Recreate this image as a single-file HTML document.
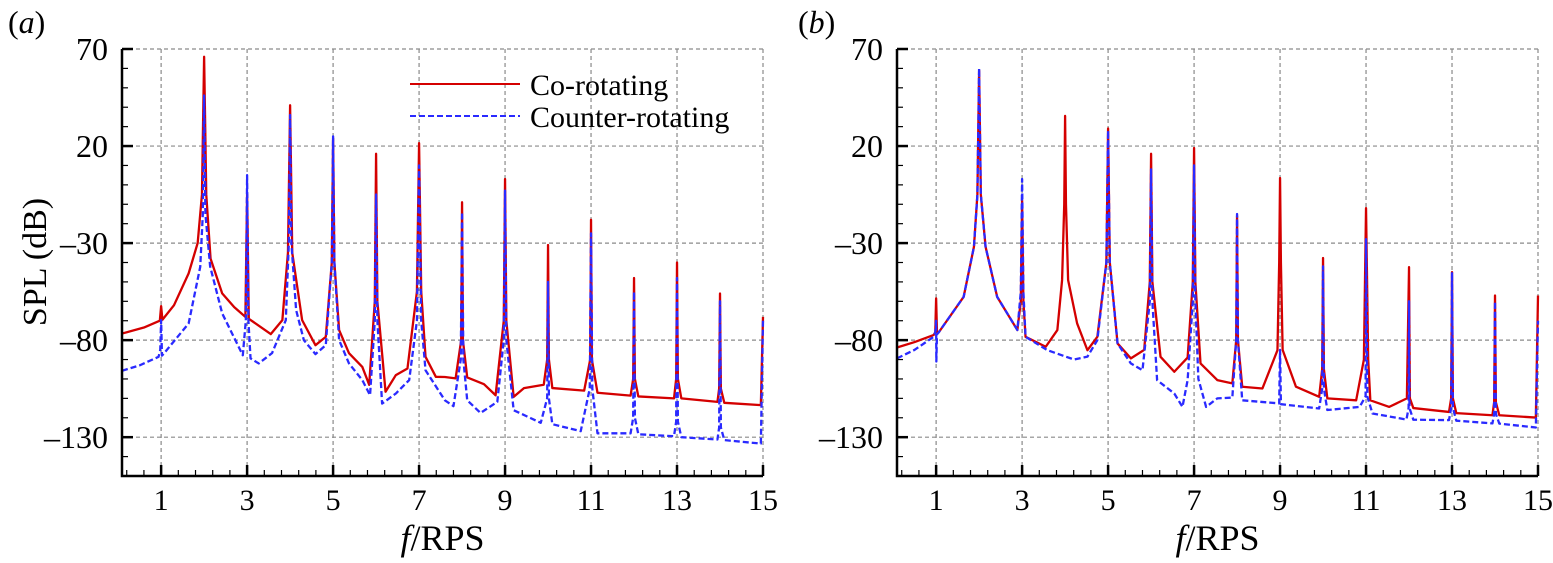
<!DOCTYPE html>
<html><head><meta charset="utf-8">
<style>
html,body{margin:0;padding:0;background:#fff;}
svg{display:block;font-family:"Liberation Serif",serif;}
</style></head>
<body>
<svg id="chart" width="1553" height="563" viewBox="0 0 1553 563" xmlns="http://www.w3.org/2000/svg"></svg>
<script>
// ---- data (f in RPS, SPL in dB) ----
const xTicks = [1,3,5,7,9,11,13,15];
const yTicks = [70,20,-30,-80,-130];
const legendLabels = ["Co-rotating","Counter-rotating"];

const fA_co = [0.09,0.6,0.97,1,1.03,1.3,1.64,1.85,1.95,2,2.05,2.15,2.42,2.7,2.96,3,3.04,3.3,3.55,3.82,3.95,4,4.05,4.28,4.59,4.83,4.97,5,5.03,5.14,5.37,5.68,5.84,5.97,6,6.03,6.22,6.46,6.73,6.95,7,7.05,7.15,7.39,7.6,7.85,7.98,8,8.02,8.12,8.51,8.78,8.97,9,9.03,9.2,9.44,9.9,9.98,10,10.02,10.1,10.84,10.98,11,11.02,11.15,11.92,11.98,12,12.02,12.1,12.93,12.98,13,13.02,13.1,13.94,13.98,14,14.02,14.1,14.95,15];
const splA_co = [-76.6,-73.5,-70,-62.5,-69.5,-62,-45.6,-30,-5,66,-5,-38,-55.9,-63,-68,-5,-69,-73,-76.9,-69.7,-35,41,-35,-69.7,-82.6,-78.3,-40,24,-40,-74.8,-86.7,-93.8,-103,-60,16,-60,-106.6,-98,-94.6,-55,21.5,-55,-88.6,-98.9,-99,-99.7,-80,-9,-80,-99.2,-102.7,-108.4,-70,3,-70,-109.2,-104.7,-103,-90,-31,-90,-104.7,-106,-90,-18,-90,-107.1,-108.6,-100,-48,-100,-109,-110,-100,-40,-100,-110,-111.8,-105,-56,-105,-112.3,-113.5,-68];

const fA_counter = [0.09,0.5,0.94,0.98,1,1.02,1.06,1.64,1.91,1.97,2,2.03,2.14,2.42,2.9,2.97,3,3.03,3.08,3.27,3.58,3.9,3.97,4,4.03,4.14,4.32,4.59,4.83,4.97,5,5.03,5.14,5.37,5.68,5.86,5.97,6,6.03,6.14,6.46,6.77,6.95,7,7.05,7.15,7.6,7.8,7.97,8,8.03,8.12,8.43,8.82,8.97,9,9.03,9.2,9.83,9.98,10,10.02,10.1,10.76,10.97,11,11.03,11.15,11.92,11.98,12,12.02,12.1,12.93,12.98,13,13.02,13.1,13.94,13.98,14,14.02,14.1,14.95,15];
const splA_counter = [-95.8,-93,-88.6,-85,-69.7,-88,-87,-71.4,-42.2,-15,46,-15,-42,-66.2,-87.8,-70,5,-70,-89.4,-92,-86.7,-69.7,-30,36,-30,-64.5,-80,-87.2,-82.6,-40,25,-40,-80,-92,-100.6,-108.4,-70,-5,-70,-112.7,-107.5,-100.6,-70,10,-70,-95.5,-111,-114,-90,-14,-90,-111,-117.5,-111.8,-80,-3,-80,-116.1,-122.6,-110,-50,-110,-123.3,-126.9,-105,-25,-105,-128,-128,-120,-55,-120,-128.5,-129.5,-122,-48,-122,-130,-131.2,-125,-60,-125,-131.5,-133.3,-70];

const fB_co = [0.09,0.5,0.94,0.98,1,1.02,1.06,1.64,1.88,1.96,2,2.04,2.15,2.42,2.89,2.97,3,3.03,3.08,3.55,3.82,3.93,3.98,4,4.02,4.07,4.28,4.52,4.75,4.96,5,5.04,5.22,5.53,5.84,5.97,6,6.03,6.22,6.54,6.85,6.97,7,7.03,7.15,7.54,7.89,7.98,8,8.02,8.12,8.59,8.94,8.98,9,9.02,9.06,9.37,9.91,9.98,10,10.02,10.1,10.77,10.95,11,11.05,11.1,11.54,11.95,12,12.02,12.1,12.93,12.98,13,13.02,13.1,13.94,13.98,14,14.02,14.1,14.95,15];
const splB_co = [-83.8,-81,-77.4,-76,-58.5,-76,-76,-57.7,-31.9,-5,59,-5,-31.9,-57.7,-74.8,-60,-8,-60,-78.3,-83.4,-74.8,-49,-10,35.5,-10,-49,-71.4,-85.2,-78.3,-40,29,-40,-81.7,-89.4,-85,-50,16,-50,-88.6,-96.3,-89,-50,19,-50,-92,-100.6,-102.3,-80,-16,-80,-104,-104.9,-85.2,-40,3.5,-40,-85,-104,-109.2,-95,-37.7,-95,-110,-111,-90,-12,-90,-111,-114.4,-110,-42.4,-110,-115,-117,-110,-45,-110,-117.6,-118.7,-112,-57,-112,-118.7,-119.9,-57];

const fB_counter = [0.09,0.5,0.94,0.98,1,1.005,1.02,1.06,1.64,1.88,1.96,2,2.04,2.15,2.42,2.89,2.97,3,3.03,3.08,3.59,4.21,4.52,4.75,4.96,5,5.04,5.22,5.53,5.8,5.97,6,6.03,6.14,6.54,6.73,6.85,6.97,7,7.03,7.1,7.28,7.54,7.89,7.98,8,8.02,8.12,8.98,9,9.02,9.91,9.98,10,10.02,10.1,10.85,10.99,11,11.03,11.15,11.94,11.99,12,12.01,12.1,12.93,12.98,13,13.02,13.1,13.94,13.98,14,14.02,14.1,14.95,15];
const splB_counter = [-89.4,-85,-78.3,-76,-70,-91,-77,-76,-57.7,-31.9,-5,60,-5,-31.9,-57.7,-74.8,-55,3,-55,-78.3,-85.2,-90,-88.5,-80,-40,28,-40,-81.7,-92,-95.5,-60,8,-60,-100.6,-107.5,-114.4,-100.6,-60,10,-60,-100,-114.4,-110,-109.6,-80,-15,-80,-111,-112.6,-85,-113,-115.2,-105,-42,-105,-116,-114.4,-109,-28,-109,-117.8,-120.9,-115,-60,-115,-121,-121.2,-115,-45,-115,-121.5,-122.9,-118,-60,-118,-123,-125,-70];

// ---- layout ----
const NS = "http://www.w3.org/2000/svg";
const svg = document.getElementById('chart');
const X0 = 0.09, X1 = 15, Y0 = -150, Y1 = 70;
const panels = [
  {id:'a', left:122, right:763, top:49, bottom:476, label:'a', lx:8,
   series:[[fA_co,splA_co,'co'],[fA_counter,splA_counter,'counter']], legend:true},
  {id:'b', left:897, right:1538, top:49, bottom:476, label:'b', lx:798,
   series:[[fB_co,splB_co,'co'],[fB_counter,splB_counter,'counter']], legend:false}
];
function mk(tag, attrs, parent){
  const e = document.createElementNS(NS, tag);
  for (const k in attrs) e.setAttribute(k, attrs[k]);
  (parent||svg).appendChild(e);
  return e;
}
panels.forEach(p => {
  const sx = f => p.left + (f - X0) / (X1 - X0) * (p.right - p.left);
  const sy = v => p.bottom - (v - Y0) / (Y1 - Y0) * (p.bottom - p.top);
  const g = mk('g', {});
  
  
  const clip = mk('clipPath', {id:'clip-' + p.id}, g);
  mk('rect', {x:p.left, y:p.top - 2, width:p.right - p.left + 2, height:p.bottom - p.top + 2}, clip);

  xTicks.forEach(t => {
    const l = mk('line', {x1:sx(t), x2:sx(t), y1:p.top, y2:p.bottom, stroke:'#8a8a8a', 'stroke-width':1.2, 'stroke-dasharray':'4,3'}, g);
    
    
  });
  yTicks.forEach(t => {
    const l = mk('line', {x1:p.left, x2:p.right, y1:sy(t), y2:sy(t), stroke:'#8a8a8a', 'stroke-width':1.2, 'stroke-dasharray':'4,3'}, g);
    
    
  });

  p.series.forEach(s => {
    const [fs, vs, kind] = s;
    const pts = fs.map((f, i) => sx(f).toFixed(2) + ',' + sy(vs[i]).toFixed(2)).join(' ');
    const pl = mk('polyline', {points:pts, fill:'none', 'clip-path':'url(#clip-' + p.id + ')',
      stroke: kind === 'co' ? '#d40000' : '#2a2aff', 'stroke-width': 2.3,
      'stroke-dasharray': kind === 'co' ? 'none' : '6,3', 'stroke-linejoin':'round'}, g);
    
    
  });

  const ax = mk('path', {d:`M${p.left},${p.top} V${p.bottom} H${p.right}`, stroke:'#000', 'stroke-width':2.5, fill:'none'}, g);
  
  
  for (let v = -150; v <= 70; v += 10) {
    const major = yTicks.includes(v);
    mk('line', {x1:p.left, x2:p.left + (major ? 11 : 6), y1:sy(v), y2:sy(v), stroke:'#000', 'stroke-width': major ? 2.5 : 1.2}, g);
  }
  for (let f = 0.2; f <= 15.01; f += 0.4) {
    const fr = Math.round(f * 10) / 10;
    if (xTicks.includes(fr)) continue;
    mk('line', {x1:sx(fr), x2:sx(fr), y1:p.bottom, y2:p.bottom - 6, stroke:'#000', 'stroke-width':1.2}, g);
  }
  xTicks.forEach(t => {
    mk('line', {x1:sx(t), x2:sx(t), y1:p.bottom, y2:p.bottom - 11, stroke:'#000', 'stroke-width':2.5}, g);
    const tx = mk('text', {x:sx(t), y:p.bottom + 34, 'font-size':30, 'text-anchor':'middle'}, g);
    tx.textContent = t;
    
    
  });
  yTicks.forEach(t => {
    const tx = mk('text', {x:p.left - 14, y:sy(t) + 11, 'font-size':32, 'text-anchor':'end'}, g);
    tx.textContent = t < 0 ? '\u2013' + Math.abs(t) : t;
    
    
  });
  const xt = mk('text', {x:(p.left + p.right) / 2, y:550, 'font-size':36, 'text-anchor':'middle'}, g);
  xt.innerHTML = '<tspan font-style="italic">f</tspan>/RPS';
  
  
  const pl = mk('text', {x:p.lx, y:33, 'font-size':32}, g);
  pl.innerHTML = '(<tspan font-style="italic">' + p.label + '</tspan>)';
  
  

  if (p.legend) {
    const lg = mk('g', {}, g);
    
    
    const e1 = mk('line', {x1:410, x2:520, y1:84, y2:84, stroke:'#d40000', 'stroke-width':2}, lg);
    
    
    const t1 = mk('text', {x:530, y:95, 'font-size':30}, lg);
    t1.textContent = legendLabels[0];
    
    
    const e2 = mk('line', {x1:410, x2:520, y1:116, y2:116, stroke:'#2a2aff', 'stroke-width':2, 'stroke-dasharray':'6,3'}, lg);
    
    
    const t2 = mk('text', {x:530, y:127, 'font-size':30}, lg);
    t2.textContent = legendLabels[1];
    
    
  }
});
const yt = mk('text', {x:0, y:0, 'font-size':34, 'text-anchor':'middle', transform:'translate(46,262) rotate(-90)'});
yt.textContent = 'SPL (dB)';


</script>
</body></html>
